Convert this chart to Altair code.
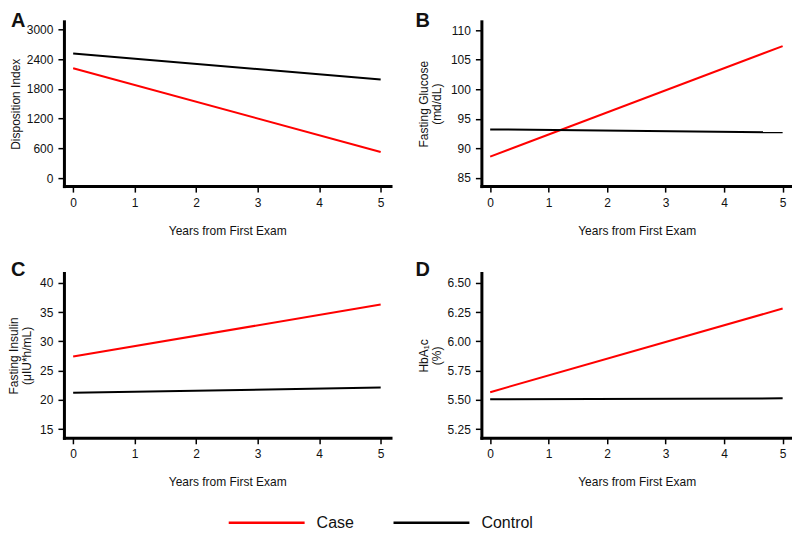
import altair as alt
import pandas as pd

# ---- data ----
years = [0, 5]
series_names = ["Case", "Control"]
series_colors = ["#ff0000", "#000000"]

di_case = [2213, 527]
di_control = [2514, 1987]
glu_case = [88.6, 107.3]
glu_control = [93.2, 92.7]
ins_case = [27.4, 36.3]
ins_control = [21.2, 22.1]
hba_case = [5.565, 6.28]
hba_control = [5.505, 5.512]

panel_letters = ["A", "B", "C", "D"]
x_ticks = [0, 1, 2, 3, 4, 5]
di_ticks = [0, 600, 1200, 1800, 2400, 3000]
glu_ticks = [85, 90, 95, 100, 105, 110]
ins_ticks = [15, 20, 25, 30, 35, 40]
hba_ticks = [5.25, 5.50, 5.75, 6.00, 6.25, 6.50]

FONT = "Liberation Sans"
W1, W2 = 327, 311
H = 165


def make_df(case_vals, control_vals):
    rows = []
    for yr, v in zip(years, case_vals):
        rows.append({"year": yr, "value": v, "series": "Case"})
    for yr, v in zip(years, control_vals):
        rows.append({"year": yr, "value": v, "series": "Control"})
    return pd.DataFrame(rows)


legend = alt.Legend(orient="none", legendX=157, legendY=494,
                    direction="horizontal", symbolType="M-38,0H38",
                    symbolSize=4, symbolOffset=38, symbolStrokeWidth=2.5,
                    labelFontSize=16, labelFont=FONT, labelColor="#111",
                    labelOffset=42, columnPadding=31, padding=0)


def panel(df, letter, title, ydomain, yticks, yfmt, width, title_x, letter_x, letter_y, line_h=13):
    lines = alt.Chart(df).mark_line(strokeWidth=2).encode(
        x=alt.X("year:Q",
                scale=alt.Scale(domain=[-0.15, 5.16], nice=False, zero=False),
                axis=alt.Axis(values=x_ticks, format="d", title="Years from First Exam",
                              titlePadding=17)),
        y=alt.Y("value:Q",
                scale=alt.Scale(domain=ydomain, nice=False, zero=False),
                axis=alt.Axis(values=yticks, format=yfmt, title=title,
                              titleX=title_x, titleY=H / 2, titleLineHeight=line_h)),
        color=alt.Color("series:N", title=None,
                        scale=alt.Scale(domain=series_names, range=series_colors),
                        legend=legend),
    )
    lab = alt.Chart(pd.DataFrame({"t": [letter]})).mark_text(
        fontSize=20, fontWeight="bold", align="left", baseline="alphabetic", font=FONT, color="#111"
    ).encode(text="t:N", x=alt.value(letter_x), y=alt.value(letter_y))
    return alt.layer(lines, lab).properties(width=width, height=H)


pA = panel(make_df(di_case, di_control), panel_letters[0], "Disposition Index",
           [-160, 3160], di_ticks, "d", W1, -41, -53, 6)
pB = panel(make_df(glu_case, glu_control), panel_letters[1], ["Fasting Glucose", "(md/dL)"],
           [83.6, 111.5], glu_ticks, "d", W2, -51, -66, 6)
pC = panel(make_df(ins_case, ins_control), panel_letters[2], ["Fasting Insulin", "(\u03bcIU*h/mL)"],
           [13.5, 41.7], ins_ticks, "d", W1, -43, -53, 3)
pD = panel(make_df(hba_case, hba_control), panel_letters[3], ["HbA\u2081c", "(%)"],
           [5.175, 6.584], hba_ticks, ".2f", W2, -51, -66, 3)

chart = alt.concat(pA, pB, pC, pD, columns=2, spacing={"row": 24, "column": 25}).properties(
    padding={"top": 3, "left": 0, "right": 0, "bottom": 0}
).configure(font=FONT).configure_view(strokeWidth=0).configure_axis(
    grid=False, domainColor="#000", domainWidth=3, domainCap="square",
    tickColor="#000", tickWidth=1.5, tickSize=6, labelPadding=5,
    labelFont=FONT, labelFontSize=12, labelColor="#111",
    titleFont=FONT, titleFontSize=12, titleFontWeight="normal", titleColor="#111",
)

chart.save("out.html", embed_options={"renderer": "svg", "actions": False})
